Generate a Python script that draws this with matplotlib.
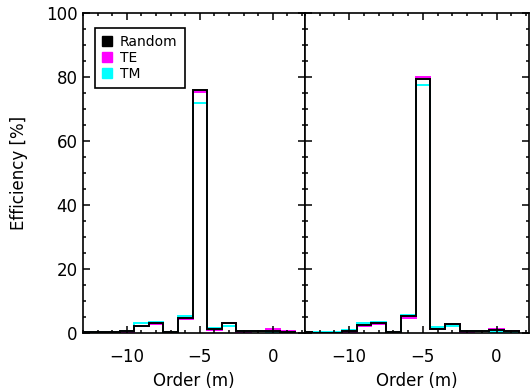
import numpy as np
import matplotlib
matplotlib.use("Agg")
import matplotlib.pyplot as plt
from matplotlib.lines import Line2D
from matplotlib.ticker import MultipleLocator

# diffraction orders (bin centres)
orders = np.arange(-13, 2)

# left panel
left_random = [0.2, 0.2, 0.2, 0.5, 2.3, 3.0, 0.2, 4.8, 76.0, 1.3, 3.0, 0.5, 0.5, 0.7, 0.4]
left_te = [0.1, 0.1, 0.1, 0.4, 2.1, 2.8, 0.1, 4.3, 75.4, 1.0, 3.1, 0.4, 0.5, 1.1, 0.6]
left_tm = [0.4, 0.3, 0.3, 0.7, 3.0, 3.4, 0.3, 5.3, 71.9, 1.6, 2.2, 0.6, 0.6, 0.4, 0.3]

# right panel
right_random = [0.2, 0.1, 0.1, 0.6, 2.6, 3.0, 0.2, 5.2, 79.3, 1.4, 2.7, 0.5, 0.6, 0.8, 0.5]
right_te = [0.1, 0.1, 0.1, 0.4, 2.3, 2.8, 0.1, 4.7, 79.9, 1.1, 2.9, 0.4, 0.5, 1.1, 0.6]
right_tm = [0.3, 0.2, 0.2, 0.8, 3.2, 3.5, 0.3, 5.6, 77.6, 1.8, 2.2, 0.6, 0.6, 0.4, 0.3]

labels = ["Random", "TE", "TM"]
colors = ["black", "#ff00ff", "#00ffff"]

edges = np.append(orders - 0.5, orders[-1] + 0.5)

fig = plt.figure(figsize=(5.3, 3.9), dpi=100)
bottom, height = 1 - 333 / 390, 320 / 390
ax1 = fig.add_axes([83 / 530, bottom, 222 / 530, height])
ax2 = fig.add_axes([305 / 530, bottom, 224 / 530, height])

for ax, rnd, te, tm in [(ax1, left_random, left_te, left_tm),
                        (ax2, right_random, right_te, right_tm)]:
    ax.stairs(te, edges, baseline=0, color=colors[1], lw=1.4)
    ax.stairs(tm, edges, baseline=0, color=colors[2], lw=1.4)
    ax.stairs(rnd, edges, baseline=0, color=colors[0], lw=1.4)
    ax.set_xlim(-13, 2.2)
    ax.set_ylim(0, 100)
    ax.xaxis.set_major_locator(MultipleLocator(5))
    ax.xaxis.set_minor_locator(MultipleLocator(1))
    ax.yaxis.set_major_locator(MultipleLocator(20))
    ax.yaxis.set_minor_locator(MultipleLocator(5))
    ax.tick_params(which="both", direction="in", top=True, right=True, width=1.1)
    ax.tick_params(which="major", length=5)
    ax.tick_params(which="minor", length=2.5)
    ax.tick_params(axis="x", labelsize=12, pad=11)
    for s in ax.spines.values():
        s.set_linewidth(1.2)
    ax.set_xlabel("Order (m)", fontsize=12, labelpad=4)

ax1.tick_params(axis="y", labelsize=12, pad=4)
ax2.tick_params(axis="y", labelleft=False)
ax1.set_ylabel("Efficiency [%]", fontsize=12, labelpad=13)

handles = [Line2D([], [], ls="none", marker="s", markersize=7, color=c) for c in colors]
leg = ax1.legend(handles, labels, loc="upper left", bbox_to_anchor=(0.054, 0.953),
                 borderaxespad=0, fancybox=False, fontsize=10, handlelength=0.8,
                 handletextpad=0.5, labelspacing=0.15, borderpad=0.5, framealpha=1)
leg.get_frame().set_edgecolor("black")
leg.get_frame().set_linewidth(1.2)

fig.savefig("out.png", dpi=100)
